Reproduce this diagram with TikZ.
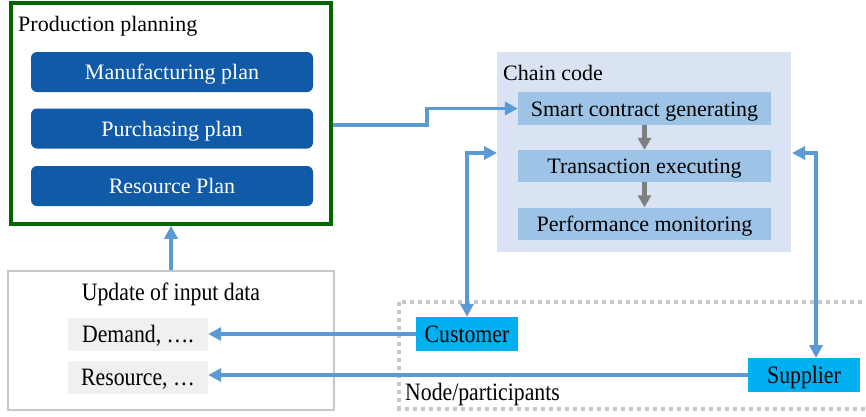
\documentclass[tikz,border=0pt]{standalone}
\usepackage{fontspec}
\usepackage{graphicx}
\setmainfont{Liberation Serif}
\usetikzlibrary{arrows.meta,calc}
\definecolor{pgreen}{RGB}{0,102,0}
\definecolor{pblue}{RGB}{16,90,168}
\definecolor{abl}{RGB}{91,155,213}
\definecolor{chbg}{RGB}{218,227,243}
\definecolor{inb}{RGB}{157,195,230}
\definecolor{cyanb}{RGB}{0,176,240}
\definecolor{lgray}{RGB}{200,200,200}
\definecolor{dotg}{RGB}{200,200,200}
\definecolor{boxg}{RGB}{240,240,240}
\definecolor{agray}{RGB}{127,127,127}
\newcommand{\cnd}[1]{\scalebox{0.87}[1]{#1}}
\begin{document}
\begin{tikzpicture}[x=1pt,y=-1pt,
 up/.style={font=\fontsize{22}{26}\selectfont, text height=15pt, text depth=0pt, inner sep=0pt},
 lo/.style={font=\fontsize{25}{30}\selectfont, text height=16.5pt, text depth=0pt, inner sep=0pt},
 planbox/.style={up, fill=pblue, text=white, rounded corners=6pt, minimum width=282pt, minimum height=40pt},
 stepbox/.style={up, fill=inb, minimum width=253pt, minimum height=33pt},
 databox/.style={lo, fill=boxg, minimum width=140pt, minimum height=33pt},
 partbox/.style={lo, fill=cyanb, minimum height=34pt},
 barrow/.style={draw=abl, line width=3.5pt, >={Triangle[length=13pt,width=13pt]}},
 garrow/.style={draw=agray, line width=4.5pt, >={Triangle[length=12pt,width=13pt]}, ->},
]
\useasboundingbox (0,0) rectangle (866,416);
\fill[white] (0,0) rectangle (866,416);

% Production planning
\node[draw=pgreen, line width=3.5pt, minimum width=320pt, minimum height=221pt, inner sep=0pt] (pp) at (171,113.5) {};
\node[up, anchor=base west] (pplab) at (18,31) {Production planning};
\node[planbox] (manu) at (172,72) {Manufacturing plan};
\node[planbox] (purch) at (172,128.5) {Purchasing plan};
\node[planbox] (rplan) at (172,186) {Resource Plan};

% Chain code
\node[fill=chbg, minimum width=294pt, minimum height=200pt, inner sep=0pt] (chain) at (644,152) {};
\node[up, anchor=base west] (chlab) at (503,80) {Chain code};
\node[stepbox] (smart) at (644.5,108.5) {Smart contract generating};
\node[stepbox, minimum height=32pt] (tx) at (644.5,166) {Transaction executing};
\node[stepbox, minimum height=32pt] (perf) at (644.5,223.5) {Performance monitoring};
\draw[garrow] (smart.south) -- (tx.north);
\draw[garrow] (tx.south) -- (perf.north);

% Update of input data
\node[draw=lgray, line width=2.5pt, minimum width=326pt, minimum height=139pt, inner sep=0pt] (upd) at (171,340.5) {};
\node[lo] (updlab) at (171,292) {\cnd{Update of input data}};
\node[databox] (dem) at (138,334.5) {\cnd{Demand, \char"2026.}};
\node[databox] (res) at (138,377) {\cnd{Resource, \char"2026}};

% Node/participants
\draw[dotg, line width=4pt, dash pattern=on 4pt off 4pt] (399,302) rectangle (880,408.5);
\node[lo, anchor=west] (nplab) at (405,392) {\cnd{Node/participants}};
\node[partbox, minimum width=102pt] (cust) at (467,334) {\cnd{Customer}};
\node[partbox, minimum width=112pt] (sup) at (804,375) {\cnd{Supplier}};

% connectors
\coordinate (bend) at (427,0);
\draw[barrow,->] ([yshift=3.5pt]pp.east |- purch.east) -- ([yshift=3.5pt]bend |- purch.east) -- (bend |- smart.west) -- (smart.west);
\draw[barrow,->] (upd.north) -- (pp.south);
\coordinate (cin) at (497,153);
\draw[barrow,<->] (cust.north) |- (cin);
\coordinate (sin) at (792,153);
\coordinate (stop) at (816,358);
\draw[barrow,<->] (stop) |- (sin);
\draw[barrow,->] (cust.west) -- (cust.west -| dem.east);
\draw[barrow,->] (sup.west) -- (sup.west -| res.east);
\end{tikzpicture}
\end{document}
